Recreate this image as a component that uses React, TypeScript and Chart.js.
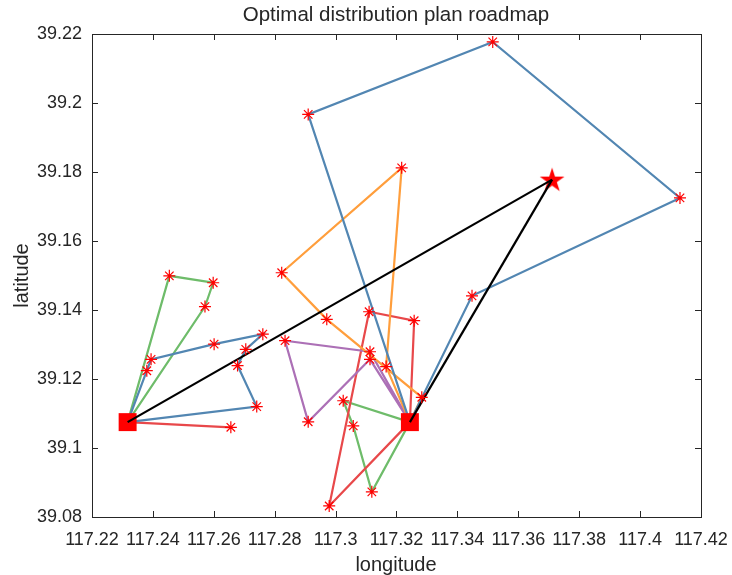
import React, { useEffect, useRef } from "react";
import { Chart, registerables } from "chart.js";

Chart.register(...registerables);

// ---- axis ticks ----
const xTicks = [117.22, 117.24, 117.26, 117.28, 117.3, 117.32, 117.34, 117.36, 117.38, 117.4, 117.42];
const yTicks = [39.08, 39.1, 39.12, 39.14, 39.16, 39.18, 39.2, 39.22];

// ---- depots (squares) and distribution center (star) ----
const depotLon = [117.2317, 117.3244];
const depotLat = [39.1075, 39.1075];
const centerLon = [117.3711];
const centerLat = [39.1778];

// ---- routes from depot 1 ----
const route1BlueLon = [117.238, 117.2394, 117.2601, 117.2761, 117.2705, 117.2678, 117.2741];
const route1BlueLat = [39.1224, 39.1257, 39.1301, 39.133, 39.1286, 39.1239, 39.112];
const route1GreenLon = [117.2454, 117.2598, 117.2571];
const route1GreenLat = [39.1499, 39.1479, 39.141];
const route1RedLon = [117.2656];
const route1RedLat = [39.106];

// ---- routes from depot 2 ----
const route2BlueLon = [117.3448, 117.4131, 117.3516, 117.291];
const route2BlueLat = [39.1441, 39.1725, 39.2177, 39.1967];
const route2OrangeLon = [117.3283, 117.2971, 117.2823, 117.3217, 117.3166];
const route2OrangeLat = [39.1147, 39.1373, 39.1508, 39.1812, 39.1236];
const route2PurpleLon = [117.3113, 117.2834, 117.291, 117.3113];
const route2PurpleLat = [39.1279, 39.1311, 39.1076, 39.1257];
const route2RedLon = [117.3258, 117.311, 117.2979];
const route2RedLat = [39.1369, 39.1395, 39.0832];
const route2GreenLon = [117.3025, 117.3058, 117.3119];
const route2GreenLat = [39.1137, 39.1064, 39.0873];

const BLUE = "rgb(82,134,178)";
const GREEN = "rgb(110,188,106)";
const RED = "rgb(232,72,74)";
const ORANGE = "rgb(255,158,60)";
const PURPLE = "rgb(172,112,182)";
const TEXT = "#262626";
const FONT = "'Liberation Sans', Arial, Helvetica, sans-serif";

const routes = [
  { depot: 0, lon: route1BlueLon, lat: route1BlueLat, color: BLUE },
  { depot: 0, lon: route1GreenLon, lat: route1GreenLat, color: GREEN },
  { depot: 0, lon: route1RedLon, lat: route1RedLat, color: RED },
  { depot: 1, lon: route2BlueLon, lat: route2BlueLat, color: BLUE },
  { depot: 1, lon: route2OrangeLon, lat: route2OrangeLat, color: ORANGE },
  { depot: 1, lon: route2PurpleLon, lat: route2PurpleLat, color: PURPLE },
  { depot: 1, lon: route2RedLon, lat: route2RedLat, color: RED },
  { depot: 1, lon: route2GreenLon, lat: route2GreenLat, color: GREEN },
];

const fmt = (v: number) => String(Number(Number(v).toFixed(2)));

function makeStarImage(): HTMLCanvasElement {
  const c = document.createElement("canvas");
  const s = 28;
  c.width = s;
  c.height = s;
  const g = c.getContext("2d")!;
  const cx = s / 2, cy = s / 2 + 1;
  const R = 13, r = R * 0.382;
  g.beginPath();
  for (let i = 0; i < 10; i++) {
    const rad = i % 2 === 0 ? R : r;
    const a = -Math.PI / 2 + (i * Math.PI) / 5;
    const px = cx + rad * Math.cos(a);
    const py = cy + rad * Math.sin(a);
    if (i === 0) g.moveTo(px, py);
    else g.lineTo(px, py);
  }
  g.closePath();
  g.fillStyle = "#ff0000";
  g.fill();
  return c;
}

const framePlugin = {
  id: "frame",
  afterDraw(chart: any) {
    const { ctx, chartArea } = chart;
    const { left, right, top, bottom } = chartArea;
    const xs = chart.scales.x;
    const ys = chart.scales.y;
    ctx.save();
    ctx.strokeStyle = TEXT;
    ctx.lineWidth = 1;
    ctx.strokeRect(Math.round(left) + 0.5, Math.round(top) + 0.5, Math.round(right - left), Math.round(bottom - top));
    ctx.beginPath();
    const tl = 6;
    for (const v of xTicks) {
      const px = Math.round(xs.getPixelForValue(v)) + 0.5;
      ctx.moveTo(px, bottom);
      ctx.lineTo(px, bottom - tl);
      ctx.moveTo(px, top);
      ctx.lineTo(px, top + tl);
    }
    for (const v of yTicks) {
      const py = Math.round(ys.getPixelForValue(v)) + 0.5;
      ctx.moveTo(left, py);
      ctx.lineTo(left + tl, py);
      ctx.moveTo(right, py);
      ctx.lineTo(right - tl, py);
    }
    ctx.stroke();

    ctx.fillStyle = TEXT;
    ctx.font = `20.5px ${FONT}`;
    ctx.textAlign = "center";
    ctx.textBaseline = "middle";
    ctx.fillText("Optimal distribution plan roadmap", 396, 15);
    ctx.font = `20px ${FONT}`;
    ctx.fillText("longitude", 396, 565);
    ctx.translate(22, (top + bottom) / 2);
    ctx.rotate(-Math.PI / 2);
    ctx.fillText("latitude", 0, 0);
    ctx.restore();
  },
};

export default function App() {
  const ref = useRef<HTMLCanvasElement | null>(null);

  useEffect(() => {
    document.body.style.margin = "0";
    const canvas = ref.current!;
    const datasets: any[] = [];

    routes.forEach((rt) => {
      const pts = [{ x: depotLon[rt.depot], y: depotLat[rt.depot] }];
      rt.lon.forEach((lo, i) => pts.push({ x: lo, y: rt.lat[i] }));
      pts.push({ x: depotLon[rt.depot], y: depotLat[rt.depot] });
      datasets.push({
        data: pts,
        showLine: true,
        borderColor: rt.color,
        borderWidth: 2.2,
        pointRadius: 0,
        order: 10,
      });
    });

    datasets.push({
      data: depotLon.map((lo, i) => ({ x: lo, y: depotLat[i] })),
      pointStyle: "rect",
      pointRadius: 12.7,
      backgroundColor: "#ff0000",
      borderColor: "#ff0000",
      borderWidth: 0,
      showLine: false,
      order: 8,
    });

    datasets.push({
      data: centerLon.map((lo, i) => ({ x: lo, y: centerLat[i] })),
      pointStyle: makeStarImage(),
      pointRadius: 13,
      showLine: false,
      order: 8,
    });

    depotLon.forEach((lo, i) => {
      datasets.push({
        data: [
          { x: lo, y: depotLat[i] },
          { x: centerLon[0], y: centerLat[0] },
        ],
        showLine: true,
        borderColor: "#000000",
        borderWidth: 2.2,
        pointRadius: 0,
        order: 5,
      });
    });

    const customers: { x: number; y: number }[] = [];
    routes.forEach((rt) => rt.lon.forEach((lo, i) => customers.push({ x: lo, y: rt.lat[i] })));
    datasets.push({
      data: customers,
      pointStyle: "star",
      pointRadius: 6,
      borderColor: "#ff0000",
      backgroundColor: "#ff0000",
      borderWidth: 1.2,
      showLine: false,
      order: 1,
    });

    const tickFont = { family: FONT, size: 18 };
    const chart = new Chart(canvas, {
      type: "scatter",
      data: { datasets },
      options: {
        animation: false,
        responsive: false,
        maintainAspectRatio: false,
        layout: { padding: { left: 0, right: 31, top: 34, bottom: 0 } },
        plugins: {
          legend: { display: false },
          title: { display: false },
          tooltip: { enabled: false },
        },
        scales: {
          x: {
            type: "linear",
            min: 117.22,
            max: 117.42,
            afterBuildTicks: (s: any) => {
              s.ticks = xTicks.map((v) => ({ value: v }));
            },
            afterFit: (s: any) => {
              s.height = 58;
              s.paddingLeft = 0;
              s.paddingRight = 0;
            },
            grid: { display: false, drawTicks: false },
            border: { display: false },
            ticks: {
              padding: 12,
              color: TEXT,
              font: tickFont,
              maxRotation: 0,
              autoSkip: false,
              callback: (v: any) => fmt(v),
            },
          },
          y: {
            type: "linear",
            min: 39.08,
            max: 39.22,
            afterBuildTicks: (s: any) => {
              s.ticks = yTicks.map((v) => ({ value: v }));
            },
            afterFit: (s: any) => {
              s.width = 92;
              s.paddingTop = 0;
              s.paddingBottom = 0;
            },
            grid: { display: false, drawTicks: false },
            border: { display: false },
            ticks: {
              padding: 10,
              color: TEXT,
              font: tickFont,
              autoSkip: false,
              callback: (v: any) => fmt(v),
            },
          },
        },
      },
      plugins: [framePlugin],
    } as any);

    return () => chart.destroy();
  }, []);

  return (
    <div style={{ position: "absolute", left: 0, top: 0, width: 732, height: 575, background: "#fff" }}>
      <canvas ref={ref} width={732} height={575} style={{ width: 732, height: 575, display: "block" }} />
    </div>
  );
}
